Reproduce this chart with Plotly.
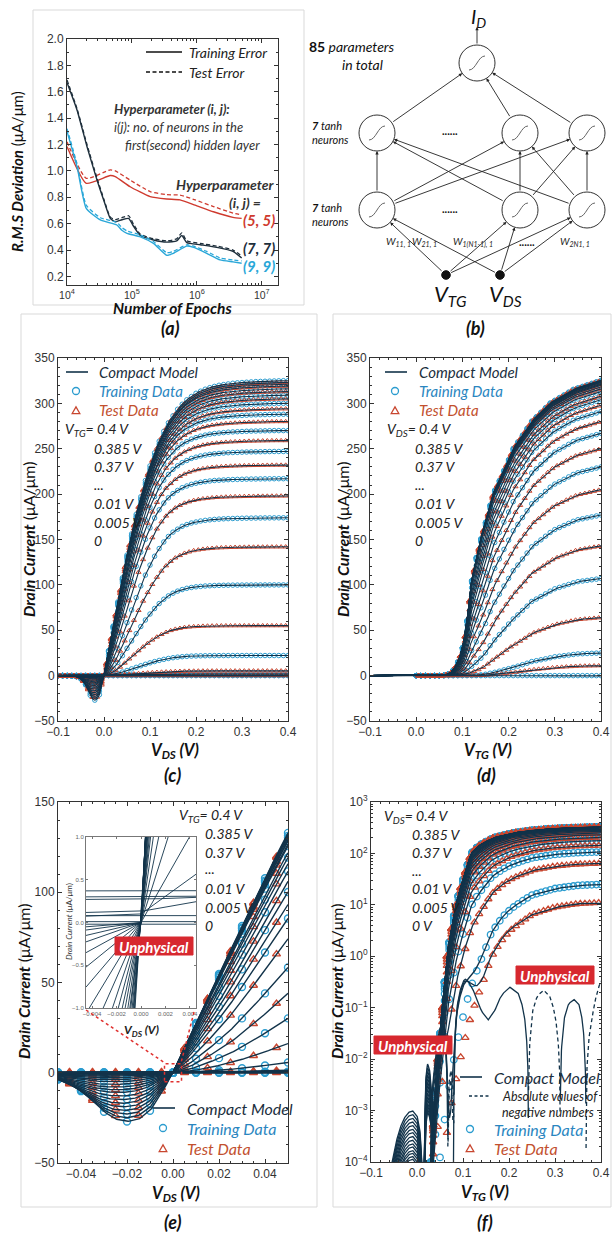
import numpy as np
import plotly.graph_objects as go

W, H = 612, 1234
F_TXT = "Lato, 'Open Sans', sans-serif"
F_TICK = "'Liberation Sans', Arial, sans-serif"

# ======================= DATA =======================
# ---- (a) RMS deviation vs number of epochs ----
EP_RED = [1e4, 1.98e4, 4.64e4, 5.54e4, 9.4e4, 1.91e5, 3.44e5, 5.5e5, 9.4e5, 1.8e6, 3.6e6, 4.9e6]
RMS_RED_TRAIN = [1.185, 0.906, 0.965, 0.957, 0.88, 0.805, 0.787, 0.78, 0.74, 0.69, 0.648, 0.64]
RMS_RED_TEST = [1.22, 0.944, 1.008, 1.0, 0.93, 0.843, 0.82, 0.817, 0.78, 0.73, 0.68, 0.666]
EP_DARK = [1e4, 1.43e4, 2.03e4, 2.9e4, 3.67e4, 4.64e4, 5.54e4, 7.0e4, 8.9e4, 1.06e5, 1.35e5,
           2.15e5, 3.44e5, 4.9e5, 5.86e5, 7.0e5, 1.13e6, 2.03e6, 3.6e6, 4.9e6]
RMS_DARK_TRAIN = [1.67, 1.46, 1.185, 0.93, 0.78, 0.64, 0.615, 0.63, 0.64, 0.58, 0.51,
                  0.476, 0.46, 0.47, 0.51, 0.456, 0.44, 0.42, 0.39, 0.34]
RMS_DARK_TEST = [1.69, 1.47, 1.2, 0.945, 0.79, 0.65, 0.63, 0.645, 0.66, 0.595, 0.52,
                 0.485, 0.47, 0.485, 0.53, 0.47, 0.45, 0.43, 0.40, 0.355]
EP_CYAN = [1e4, 1.43e4, 1.98e4, 3.26e4, 5.87e4, 7.0e4, 8.4e4, 1.35e5, 2.15e5, 3.44e5, 4.35e5,
           7.0e5, 8.9e5, 1.42e6, 2.28e6, 3.6e6, 4.9e6]
RMS_CYAN_TRAIN = [1.30, 1.03, 0.716, 0.628, 0.59, 0.55, 0.527, 0.50, 0.45, 0.36, 0.375,
                  0.43, 0.42, 0.375, 0.325, 0.31, 0.30]
RMS_CYAN_TEST = [1.32, 1.05, 0.74, 0.645, 0.61, 0.57, 0.545, 0.515, 0.465, 0.38, 0.39,
                 0.44, 0.43, 0.39, 0.34, 0.325, 0.318]

# ---- (c)/(e) output characteristics, one entry per V_TG curve ----
VTG_C = [0.4, 0.385, 0.37, 0.355, 0.34, 0.325, 0.31, 0.295, 0.28, 0.265, 0.25, 0.235, 0.22, 0.205,
         0.19, 0.175, 0.16, 0.145, 0.13, 0.115, 0.1, 0.085, 0.07, 0.055, 0.04, 0.025, 0.01, 0.005, 0.0]
ISAT_C = [325, 323, 321, 319, 316, 313, 309, 305, 300, 294, 288, 280, 270, 259, 247, 232, 217, 198,
          174, 142, 100, 55, 22, 5, 1.5, 0.4, 0.1, 0.03, 0.0]          # plateau current (uA/um)
VS_C = [0.118, 0.118, 0.118, 0.117, 0.117, 0.117, 0.116, 0.116, 0.115, 0.115, 0.114, 0.113, 0.112,
        0.112, 0.112, 0.112, 0.113, 0.116, 0.125, 0.13, 0.13, 0.13, 0.14, 0.15, 0.15, 0.15, 0.15,
        0.15, 0.15]                                                   # V_DS scale of the rise (V)
BL_C = [0, 0, 0, 0, 0, 0, 0, 0, 0, 0.05, 0.1, 0.15, 0.2, 0.25, 0.3, 0.35, 0.4, 0.5, 0.6, 0.7, 0.8,
        0.9, 1, 1, 1, 1, 1, 1, 1]                                     # share of S-shaped rise
DIP_C = [27, 25, 23, 21, 19, 17, 15, 13, 11, 9.5, 8, 6.5, 5, 3.8, 2.8, 2, 1.4, 0.9, 0.6, 0.35, 0.2,
         0.1, 0.05, 0, 0, 0, 0, 0, 0]                                 # depth of negative dip
VMIN_C = [0.020, 0.0205, 0.021, 0.0215, 0.022, 0.0225, 0.023, 0.0235, 0.024, 0.0245, 0.025, 0.0255,
          0.026, 0.027, 0.028, 0.029] + [0.03] * 13                   # |V_DS| of dip minimum
OFF_C = [0] * 20 + [0.0, 0.1, 0.13, 0.27, 0.30, 0.37, 0.08, 0.01, -0.02]   # current at V_DS = 0
U_PROF = [0, 0.05, 0.1, 0.15, 0.2, 0.25, 0.3, 0.35, 0.4, 0.45, 0.5, 0.6, 0.7, 0.8, 0.9, 1.0, 1.1,
          1.2, 1.35, 1.5, 1.7, 1.9, 2.1, 2.4, 2.8, 3.3, 50]
P_LIN = [0, 0.05, 0.1, 0.15, 0.197, 0.246, 0.295, 0.342, 0.388, 0.432, 0.474, 0.552, 0.622, 0.685,
         0.74, 0.788, 0.828, 0.862, 0.902, 0.932, 0.958, 0.974, 0.984, 0.992, 0.997, 1.0, 1.0]
P_SIG = [0, 0.008, 0.03, 0.06, 0.095, 0.14, 0.19, 0.245, 0.3, 0.355, 0.41, 0.52, 0.62, 0.71, 0.79,
         0.855, 0.905, 0.94, 0.972, 0.987, 0.996, 0.999, 1, 1, 1, 1, 1]
S_DIP = [0, 0.25, 0.5, 0.75, 1.0, 1.25, 1.5, 1.75, 2.0, 2.25, 2.5, 3.0, 3.5, 5.0, 50]
N_DIP = [0, 0.42, 0.78, 0.96, 1.0, 0.95, 0.8, 0.58, 0.36, 0.2, 0.09, 0.02, 0.005, 0, 0]

# ---- (d)/(f) transfer characteristics, one entry per V_DS curve ----
VDS_D = [0.4, 0.385, 0.37, 0.355, 0.34, 0.325, 0.31, 0.295, 0.28, 0.265, 0.25, 0.235, 0.22, 0.205,
         0.19, 0.175, 0.16, 0.145, 0.13, 0.115, 0.1, 0.085, 0.07, 0.055, 0.04, 0.025, 0.01, 0.005, 0.0]
IEND_D = [325.5, 325.3, 325, 324.5, 324, 323.5, 323, 322, 321, 320, 318, 316, 313, 308, 304, 298,
          291, 280, 267, 250, 230, 205, 177, 143, 107, 64, 25, 11, 0]   # I_D at V_TG = 0.4 V
BL_D = [0] * 12 + [0.01, 0.02, 0.03, 0.04, 0.05, 0.06, 0.08, 0.1, 0.12, 0.15, 0.19, 0.24, 0.32, 0.45,
                   0.87, 1.0, 1.0]
VTG_QH = [-0.1, 0.0, 0.02, 0.03, 0.037, 0.045, 0.055, 0.065, 0.078, 0.087, 0.097, 0.107, 0.118,
          0.13, 0.142, 0.166, 0.21, 0.25, 0.29, 0.34, 0.4]
ID_QH = [1e-9, 3e-7, 1e-5, 1e-4, 1e-3, 1e-2, 0.1, 1.0, 5, 12, 25, 50, 100, 130, 155, 200, 250, 280,
         300, 315, 325]
VTG_QL = [-0.1, 0.0, 0.03, 0.045, 0.055, 0.065, 0.075, 0.085, 0.095, 0.105, 0.115, 0.125, 0.135,
          0.145, 0.16, 0.17, 0.18, 0.19, 0.205, 0.23, 0.25, 0.3, 0.35, 0.4]
ID_QL = [1e-11, 1e-8, 1e-6, 1.5e-5, 8e-5, 3.7e-4, 1.4e-3, 4.1e-3, 0.011, 0.026, 0.058, 0.11, 0.2,
         0.35, 0.9, 1.3, 1.8, 2.4, 3.3, 4.9, 6.5, 9, 10.5, 11]
VTG_RIP = [-0.1, -0.07, -0.06, -0.05, -0.04, -0.03, -0.02, -0.01, 0.0, 0.006, 0.011, 0.0145, 0.017,
           0.02, 0.023, 0.027, 0.031, 0.034, 0.037, 0.045, 0.4]
RIP = [1e-3, 0.01, 0.05, 0.16, 0.38, 0.66, 0.9, 1.0, 0.8, 0.45, 0.12, 0.02, 1.5, 5.5, 8.0, 6.5, 3.0,
       0.8, 0.1, 0.002, 0.001]
AMP_F = [1e-3, 8.5e-4, 7.2e-4, 6.1e-4, 5.2e-4, 4.4e-4, 3.8e-4, 3.2e-4, 2.7e-4, 2.3e-4, 2e-4, 1.7e-4,
         1.5e-4, 1.3e-4, 1.15e-4] + [0] * 14
VTG_OSC = [0.03, 0.04, 0.05, 0.058, 0.0635, 0.0665, 0.069, 0.0735, 0.078, 0.0803, 0.083, 0.087,
           0.093, 0.1, 0.104, 0.11, 0.12, 0.13, 0.14, 0.155, 0.17, 0.185, 0.202, 0.22, 0.232, 0.238,
           0.2418, 0.246, 0.252, 0.262, 0.275, 0.288, 0.3, 0.306, 0.3108, 0.315, 0.32, 0.33, 0.341,
           0.352, 0.36, 0.364, 0.3668, 0.37, 0.376, 0.385, 0.393, 0.4]
OSC = [0.0, 0.008, 0.04, 0.05, 0.015, 0.0005, -0.003, -0.006, -0.003, -0.0002, 0.03, 0.1, 0.2,
       0.32, 0.36, 0.34, 0.24, 0.14, 0.085, 0.058, 0.09, 0.18, 0.25, 0.19, 0.08, 0.025, 0.002,
       -0.025, -0.09, -0.17, -0.22, -0.17, -0.07, -0.025, -0.002, 0.02, 0.06, 0.12, 0.145, 0.115,
       0.05, 0.016, 0.002, -0.008, -0.035, -0.1, -0.22, -0.33]
W_OSC = [0] * 25 + [0.3, 0.6, 0.85, 1.0]

# ======================= MODEL EVALUATION =======================
def curve_c(k, v):
    v = np.asarray(v, float)
    u = np.clip(v, 0, None) / VS_C[k]
    pos = ISAT_C[k] * ((1 - BL_C[k]) * np.interp(u, U_PROF, P_LIN) + BL_C[k] * np.interp(u, U_PROF, P_SIG))
    s = np.clip(-v, 0, None) / VMIN_C[k]
    neg = -DIP_C[k] * np.interp(s, S_DIP, N_DIP)
    return OFF_C[k] + np.where(v >= 0, pos, neg)

LQH = np.log10(ID_QH) - np.log10(ID_QH[-1])
LQL = np.log10(ID_QL) - np.log10(ID_QL[-1])

def base_d(j, v):
    v = np.asarray(v, float)
    if IEND_D[j] <= 0:
        return np.zeros_like(v)
    lh = np.interp(v, VTG_QH, LQH)
    ll = np.interp(v, VTG_QL, LQL)
    return IEND_D[j] * 10 ** ((1 - BL_D[j]) * lh + BL_D[j] * ll)

def model_d(j, v):
    v = np.asarray(v, float)
    rip = 10 ** np.interp(v, VTG_RIP, np.log10(RIP))
    osc = np.interp(v, VTG_OSC, OSC, left=0.0, right=OSC[-1])
    return base_d(j, v) + AMP_F[j] * rip + W_OSC[j] * osc

def joined(xs, ys_list):
    X, Y = [], []
    for ys in ys_list:
        X += [float(x) for x in xs] + [None]
        Y += [None if (y is None or np.isnan(y)) else float(y) for y in ys] + [None]
    return X, Y

C_MODEL = "#12334a"
C_TRAIN = "#2b9ccf"
C_TEST = "#c8462f"
T_MODEL = "#1a2e3d"
T_TRAIN = "#2a86bf"
T_TEST = "#c2502e"
C_RED, C_DARK, C_CYAN = "#cf3a2e", "#1e2f3c", "#2aa7d8"

fig = go.Figure()

# ---------------- (a) ----------------
for ep, tr, te, col in [(EP_RED, RMS_RED_TRAIN, RMS_RED_TEST, C_RED),
                        (EP_DARK, RMS_DARK_TRAIN, RMS_DARK_TEST, C_DARK),
                        (EP_CYAN, RMS_CYAN_TRAIN, RMS_CYAN_TEST, C_CYAN)]:
    fig.add_trace(go.Scatter(x=ep, y=te, mode="lines", xaxis="x", yaxis="y",
                             line=dict(color=col, width=1.3, dash="4px,2.5px", shape="spline", smoothing=0.5)))
    fig.add_trace(go.Scatter(x=ep, y=tr, mode="lines", xaxis="x", yaxis="y",
                             line=dict(color=col, width=1.4, shape="spline", smoothing=0.5)))

# ---------------- (c) ----------------
VD_C = np.arange(-0.1, 0.40001, 0.002)
TRP_C = np.round(np.arange(-0.1, 0.4001, 0.01), 4)
TEP_C = np.round(np.arange(-0.095, 0.4, 0.01), 4)
trX, trY, teX, teY = [], [], [], []
for k in range(len(VTG_C)):
    if k % 2 == 0:
        trX += list(TRP_C); trY += list(curve_c(k, TRP_C))
    else:
        teX += list(TEP_C); teY += list(curve_c(k, TEP_C))
fig.add_trace(go.Scatter(x=trX, y=trY, mode="markers", xaxis="x2", yaxis="y2",
                         marker=dict(symbol="circle-open", size=4.5, color=C_TRAIN, line=dict(width=1))))
fig.add_trace(go.Scatter(x=teX, y=teY, mode="markers", xaxis="x2", yaxis="y2",
                         marker=dict(symbol="triangle-up-open", size=4.5, color=C_TEST, line=dict(width=1))))
X, Y = joined(VD_C, [curve_c(k, VD_C) for k in range(len(VTG_C))])
fig.add_trace(go.Scatter(x=X, y=Y, mode="lines", xaxis="x2", yaxis="y2",
                         line=dict(color=C_MODEL, width=1.1)))

# ---------------- (d) ----------------
VG_D = np.arange(-0.1, 0.40001, 0.002)
TRP_D = np.round(np.arange(0.0, 0.4001, 0.01), 4)
TEP_D = np.round(np.arange(0.005, 0.4, 0.01), 4)
trX, trY, teX, teY = [], [], [], []
for j in range(len(VDS_D)):
    if j % 2 == 0:
        trX += list(TRP_D); trY += list(base_d(j, TRP_D))
    else:
        teX += list(TEP_D); teY += list(base_d(j, TEP_D))
fig.add_trace(go.Scatter(x=trX, y=trY, mode="markers", xaxis="x3", yaxis="y3",
                         marker=dict(symbol="circle-open", size=4.5, color=C_TRAIN, line=dict(width=1))))
fig.add_trace(go.Scatter(x=teX, y=teY, mode="markers", xaxis="x3", yaxis="y3",
                         marker=dict(symbol="triangle-up-open", size=4.5, color=C_TEST, line=dict(width=1))))
X, Y = joined(VG_D, [model_d(j, VG_D) for j in range(len(VDS_D))])
fig.add_trace(go.Scatter(x=X, y=Y, mode="lines", xaxis="x3", yaxis="y3",
                         line=dict(color=C_MODEL, width=1.1)))

# ---------------- (e) ----------------
VD_E = np.arange(-0.05, 0.05001, 0.0005)
trX, trY, teX, teY = [], [], [], []
TRP_E = TRP_C[np.abs(TRP_C) <= 0.0501]
TEP_E = TEP_C[np.abs(TEP_C) <= 0.0501]
for k in range(len(VTG_C)):
    if k % 2 == 0:
        trX += list(TRP_E); trY += list(curve_c(k, TRP_E))
    else:
        teX += list(TEP_E); teY += list(curve_c(k, TEP_E))
fig.add_trace(go.Scatter(x=trX, y=trY, mode="markers", xaxis="x4", yaxis="y4",
                         marker=dict(symbol="circle-open", size=7, color=C_TRAIN, line=dict(width=1.4))))
fig.add_trace(go.Scatter(x=teX, y=teY, mode="markers", xaxis="x4", yaxis="y4",
                         marker=dict(symbol="triangle-up-open", size=7, color=C_TEST, line=dict(width=1.4))))
X, Y = joined(VD_E, [curve_c(k, VD_E) for k in range(len(VTG_C))])
fig.add_trace(go.Scatter(x=X, y=Y, mode="lines", xaxis="x4", yaxis="y4",
                         line=dict(color=C_MODEL, width=1.4)))

# ---------------- (f) ----------------
VG_F = np.arange(-0.1, 0.40001, 0.0005)
trX, trY, teX, teY = [], [], [], []
for j in range(len(VDS_D)):
    if j % 2 == 0:
        v = base_d(j, TRP_D); m = v > 0
        trX += list(TRP_D[m]); trY += list(v[m])
    else:
        v = base_d(j, TEP_D); m = v > 0
        teX += list(TEP_D[m]); teY += list(v[m])
fig.add_trace(go.Scatter(x=trX, y=trY, mode="markers", xaxis="x5", yaxis="y5",
                         marker=dict(symbol="circle-open", size=6.5, color=C_TRAIN, line=dict(width=1.3))))
fig.add_trace(go.Scatter(x=teX, y=teY, mode="markers", xaxis="x5", yaxis="y5",
                         marker=dict(symbol="triangle-up-open", size=6.5, color=C_TEST, line=dict(width=1.3))))
pos_list, neg_list = [], []
for j in range(len(VDS_D)):
    y = model_d(j, VG_F)
    pos_list.append(np.where(y > 0, y, np.nan))
    neg_list.append(np.where(y < 0, -y, np.nan))
X, Y = joined(VG_F, neg_list)
fig.add_trace(go.Scatter(x=X, y=Y, mode="lines", xaxis="x5", yaxis="y5",
                         line=dict(color=C_MODEL, width=1.3, dash="4px,3px")))
X, Y = joined(VG_F, pos_list)
fig.add_trace(go.Scatter(x=X, y=Y, mode="lines", xaxis="x5", yaxis="y5",
                         line=dict(color=C_MODEL, width=1.3)))

# ---------------- (e) inset ----------------
VD_I = np.arange(-0.0045, 0.0045001, 0.00005)
X, Y = joined(VD_I, [curve_c(k, VD_I) for k in range(len(VTG_C))])
fig.add_trace(go.Scatter(x=X, y=Y, mode="lines", xaxis="x6", yaxis="y6",
                         line=dict(color=C_MODEL, width=0.9)))

# ======================= AXES =======================
def dx(a, b):
    return [a / W, b / W]

def dy(top, bottom):
    return [1 - bottom / H, 1 - top / H]

def axis(**kw):
    d = dict(showline=True, linecolor="#333", linewidth=1, mirror="ticks", ticks="inside",
             ticklen=4, tickwidth=1, tickcolor="#333", showgrid=False, zeroline=False,
             automargin=False, tickfont=dict(family=F_TICK, size=12, color="#333"), fixedrange=True)
    d.update(kw)
    return d

MINOR = dict(ticks="inside", ticklen=2, tickcolor="#333")
minor_log_a = [m * 10 ** e for e in range(4, 7) for m in range(2, 10)]
minor_log_f = [m * 10.0 ** e for e in range(-4, 3) for m in range(2, 10)]
sup = lambda e: "10<sup>%s</sup>" % (str(e).replace("-", "\u2212"))

fig.update_layout(
    template="none",
    width=W, height=H, margin=dict(l=0, r=0, t=0, b=0, pad=0), autosize=False,
    paper_bgcolor="white", plot_bgcolor="white", showlegend=False,
    xaxis=axis(domain=dx(67, 278), anchor="y", type="log", range=[4, 7.25],
               tickvals=[1e4, 1e5, 1e6, 1e7], ticktext=[sup(4), sup(5), sup(6), sup(7)],
               tickfont=dict(family=F_TICK, size=10.5, color="#333"),
               minor=dict(tickvals=minor_log_a, **MINOR)),
    yaxis=axis(domain=dy(39, 285), anchor="x", range=[0.135, 2.0], tick0=0.2, dtick=0.2,
               tickformat=".1f", minor=dict(dtick=0.1, **MINOR)),
    xaxis2=axis(domain=dx(58, 288), anchor="y2", range=[-0.1, 0.4], dtick=0.1, tickformat=".1f",
                minor=dict(dtick=0.02, **MINOR)),
    yaxis2=axis(domain=dy(358, 721), anchor="x2", range=[-50, 350], dtick=50,
                minor=dict(dtick=10, **MINOR)),
    xaxis3=axis(domain=dx(370, 601), anchor="y3", range=[-0.1, 0.4], dtick=0.1, tickformat=".1f",
                minor=dict(dtick=0.02, **MINOR)),
    yaxis3=axis(domain=dy(358, 721), anchor="x3", range=[-50, 350], dtick=50,
                minor=dict(dtick=10, **MINOR)),
    xaxis4=axis(domain=dx(58, 288), anchor="y4", range=[-0.05, 0.05], tick0=-0.04, dtick=0.02,
                tickformat=".2f", minor=dict(dtick=0.005, **MINOR)),
    yaxis4=axis(domain=dy(802, 1163), anchor="x4", range=[-50, 150], dtick=50,
                minor=dict(dtick=10, **MINOR)),
    xaxis5=axis(domain=dx(371, 601), anchor="y5", range=[-0.1, 0.4], dtick=0.1, tickformat=".1f",
                minor=dict(dtick=0.02, **MINOR)),
    yaxis5=axis(domain=dy(802, 1162), anchor="x5", type="log", range=[-4, 3],
                tickvals=[10.0 ** e for e in range(-4, 4)], ticktext=[sup(e) for e in range(-4, 4)],
                minor=dict(tickvals=minor_log_f, **MINOR)),
    xaxis6=axis(domain=dx(86, 196), anchor="y6", range=[-0.0045, 0.0045],
                tickvals=[-0.004, -0.002, 0, 0.002, 0.004], tickformat=".3f", ticklen=2,
                linecolor="#777", tickcolor="#777", tickfont=dict(family=F_TICK, size=6, color="#666")),
    yaxis6=axis(domain=dy(837, 1008), anchor="x6", range=[-1, 1],
                tickvals=[-1, -0.5, 0, 0.5, 1], tickformat=".1f", ticklen=2,
                linecolor="#777", tickcolor="#777", tickfont=dict(family=F_TICK, size=6, color="#666")),
)

# ======================= DECORATIONS (paper coords from pixel positions) =======================
shapes, ann = [], []
PX = lambda x: x / W
PY = lambda y: 1 - y / H

def T(x, y, s, size=14, color="#222", xa="left", ya="middle", angle=0, family=F_TXT):
    ann.append(dict(x=PX(x), y=PY(y), xref="paper", yref="paper", text=s, showarrow=False,
                    xanchor=xa, yanchor=ya, textangle=angle,
                    font=dict(size=size, color=color, family=family)))

def L(x0, y0, x1, y1, color="#222", width=1.0, dash="solid"):
    shapes.append(dict(type="line", xref="paper", yref="paper", x0=PX(x0), y0=PY(y0), x1=PX(x1),
                       y1=PY(y1), line=dict(color=color, width=width, dash=dash), layer="above"))

def RECT(x0, y0, x1, y1, color="#d9d9d9", fill=None, width=1.0, dash="solid"):
    shapes.append(dict(type="rect", xref="paper", yref="paper", x0=PX(x0), y0=PY(y0), x1=PX(x1),
                       y1=PY(y1), line=dict(color=color, width=width, dash=dash),
                       fillcolor=fill if fill else "rgba(0,0,0,0)", layer="above"))

def CIRC(cx, cy, r, color="#333", fill="white", width=1.0):
    shapes.append(dict(type="circle", xref="paper", yref="paper", x0=PX(cx - r), x1=PX(cx + r),
                       y0=PY(cy + r), y1=PY(cy - r), line=dict(color=color, width=width),
                       fillcolor=fill, layer="above"))

def PATH(pts_cmds, color, width, fill="rgba(0,0,0,0)"):
    shapes.append(dict(type="path", xref="paper", yref="paper", layer="above", path=pts_cmds,
                       line=dict(color=color, width=width), fillcolor=fill))

def P(x, y):
    return "%.5f,%.5f" % (PX(x), PY(y))

def TRI(cx, cy, s, color):
    PATH("M %s L %s L %s Z" % (P(cx - s, cy + s * 0.8), P(cx + s, cy + s * 0.8), P(cx, cy - s * 0.95)),
         color, 1.3)

def ARROW(x0, y0, x1, y1):
    ann.append(dict(x=PX(x1), y=PY(y1), xref="paper", yref="paper", axref="pixel", ayref="pixel",
                    ax=x0 - x1, ay=y0 - y1, text="", showarrow=True, arrowhead=2, arrowsize=0.75,
                    arrowwidth=0.9, arrowcolor="#222", standoff=0, startstandoff=0))

# panel frames
RECT(33, 10, 304, 305)
RECT(21, 314, 317, 1207)
RECT(333, 314, 611, 1207)

# ---- (a) texts ----
L(146, 52, 182, 52, "#111", 1.6)
L(146, 72, 182, 72, "#111", 1.6, "4px,2.5px")
T(187, 52, "<i>Training Error</i>", 14, "#222")
T(187, 72, "<i>Test Error</i>", 14, "#222")
T(112, 109, "<b><i>Hyperparameter (i, j):</i></b>", 13, "#333")
T(112, 127, "<i>i(j): no. of neurons in the</i>", 13, "#333")
T(123, 145, "<i>first(second) hidden layer</i>", 13, "#333")
T(277, 184, "<b><i>Hyperparameter</i></b>", 14, "#333", xa="right")
T(263, 203, "<b><i>(i, j) =</i></b>", 14, "#333", xa="right")
T(277, 220, "<b><i>(5, 5)</i></b>", 15, C_RED, xa="right")
T(277, 248, "<b><i>(7, 7)</i></b>", 15, C_DARK, xa="right")
T(277, 266, "<b><i>(9, 9)</i></b>", 15, C_CYAN, xa="right")
T(172, 308, "<b><i>Number of Epochs</i></b>", 15.5, "#111", xa="center")
T(17, 172, "<b><i>R.M.S Deviation</i></b> (\u03bcA/\u03bcm)", 15, "#111", xa="center", angle=-90)

# ---- (b) network diagram ----
R = 18
OUT = (477, 63)
L2 = [(377, 133), (520, 133), (587, 133)]
L1 = [(377, 210), (520, 210), (587, 210)]
INP = [(446, 275), (500, 275)]

def link(a, b, ra, rb):
    ddx, ddy = b[0] - a[0], b[1] - a[1]
    d = (ddx ** 2 + ddy ** 2) ** 0.5
    ux, uy = ddx / d, ddy / d
    ARROW(a[0] + ra * ux, a[1] + ra * uy, b[0] - rb * ux, b[1] - rb * uy)

for a in INP:
    for b in L1:
        link(a, b, 4, R)
for a in L1:
    for b in L2:
        link(a, b, R, R)
for a in L2:
    link(a, OUT, R, R)
ARROW(477, 45, 477, 27)
for (cx, cy) in [OUT] + L2 + L1:
    CIRC(cx, cy, R)
    PATH("M %s C %s %s %s" % (P(cx - 8, cy + 7), P(cx - 1, cy + 7), P(cx + 1, cy - 7), P(cx + 8, cy - 7)),
         "#555", 0.9)
for (cx, cy) in INP:
    CIRC(cx, cy, 4.3, "#111", "#111")
T(478, 17, "<i>I<sub>D</sub></i>", 20, "#111", xa="center")
T(352, 47, "<b>85</b><i> parameters</i>", 14, "#111", xa="center")
T(362, 64, "<i>in total</i>", 14, "#111", xa="center")
for yy in (125, 207):
    T(310, yy, "<b><i>7</i></b><i> tanh</i>", 11, "#111")
    T(310, yy + 14, "<i>neurons</i>", 11, "#111")
T(450, 131, "<b>......</b>", 11, "#111", xa="center")
T(450, 208, "<b>......</b>", 11, "#111", xa="center")
T(527, 241, "<b>......</b>", 11, "#111", xa="center")
T(398, 242, "<i>W<sub>11, 1</sub></i>", 10, "#222", xa="center")
T(424, 242, "<i>W<sub>21, 1</sub></i>", 10, "#222", xa="center")
T(473, 242, "<i>W<sub>1(N1-1), 1</sub></i>", 10, "#222", xa="center")
T(575, 242, "<i>W<sub>2N1, 1</sub></i>", 10, "#222", xa="center")
T(450, 295, "<i>V<sub>TG</sub></i>", 22, "#111", xa="center")
T(506, 295, "<i>V<sub>DS</sub></i>", 22, "#111", xa="center")

# ---- captions ----
for (x, y, s) in [(170, 328, "(a)"), (475, 328, "(b)"), (172, 775, "(c)"), (487, 775, "(d)"),
                  (173, 1222, "(e)"), (485, 1222, "(f)")]:
    T(x, y, "<b><i>%s</i></b>" % s, 18, "#111", xa="center")

# ---- axis titles (c)-(f) ----
YT = "<b><i>Drain Current</i></b> (\u03bcA/\u03bcm)"
T(28, 540, YT, 16, "#111", xa="center", angle=-90)
T(342, 540, YT, 16, "#111", xa="center", angle=-90)
T(23, 982, YT, 16, "#111", xa="center", angle=-90)
T(336, 982, YT, 16, "#111", xa="center", angle=-90)
T(175, 750, "<b><i>V<sub>DS</sub> (V)</i></b>", 16.5, "#111", xa="center")
T(488, 750, "<b><i>V<sub>TG</sub> (V)</i></b>", 16.5, "#111", xa="center")
T(176, 1193, "<b><i>V<sub>DS</sub> (V)</i></b>", 16.5, "#111", xa="center")
T(485, 1192, "<b><i>V<sub>TG</sub> (V)</i></b>", 16.5, "#111", xa="center")

# ---- legends ----
def legend3(x_line, x_text, y0, dy_, size=15, extra=False):
    L(x_line, y0, x_line + 22, y0, C_MODEL, 1.6)
    T(x_text, y0, "<i>Compact Model</i>", size, T_MODEL)
    yy = y0 + dy_
    if extra:
        L(x_line + 9, yy, x_line + 31, yy, C_MODEL, 1.4, "3px,2.5px")
        T(x_text + 8, yy, "<i>Absolute values of</i>", 12.5, "#222")
        T(x_text + 8, yy + 16, "<i>negative numbers</i>", 12.5, "#222")
        yy += 33
    CIRC(x_line + 10, yy, 3.5, C_TRAIN, "rgba(0,0,0,0)", 1.3)
    T(x_text, yy, "<i>Training Data</i>", size, T_TRAIN)
    TRI(x_line + 10, yy + dy_ + 0.5, 3.8, C_TEST)
    T(x_text, yy + dy_, "<i>Test Data</i>", size, T_TEST)

legend3(66, 97, 372, 19)
legend3(385, 417, 372, 19)
legend3(153, 185, 1108, 20, 16)
legend3(460, 492, 1077, 19, 16, extra=True)

# ---- V_TG / V_DS lists ----
def vlist(x0, x1, ytop, sub, steps, last):
    labs = ["0.385 V", "0.37 V", "...", "0.01 V", "0.005 V", last]
    T(x0, ytop, "<i>V<sub>%s</sub>= 0.4 V</i>" % sub, 14, "#222")
    for i, s in enumerate(labs):
        T(x1, ytop + steps[i], "<i>%s</i>" % s, 14, "#222")

vlist(63, 92, 430, "TG", [18, 36, 54, 73, 92, 110], "0")
vlist(385, 413, 430, "DS", [18, 36, 54, 73, 92, 110], "0")
vlist(177, 203, 815, "TG", [18, 37, 53, 73, 92, 110], "0")
vlist(382, 410, 817, "DS", [17, 35, 53, 71, 90, 108], "0 V")

# ---- unphysical tags ----
for (x0, y0, x1, y1) in [(115, 937, 193, 955), (516, 966, 594, 984), (374, 1036, 452, 1054)]:
    RECT(x0, y0, x1, y1, "#d7282f", "#d7282f")
    T((x0 + x1) / 2, (y0 + y1) / 2 + 0.5, "<b><i>Unphysical</i></b>", 15, "white", xa="center")

# ---- inset titles and zoom guides ----
T(69, 922, "<i>Drain Current</i> (\u03bcA/\u03bcm)", 8, "#333", xa="center", angle=-90)
T(141, 1030, "<b><i>V<sub>DS</sub> (V)</i></b>", 12, "#222", xa="center")
shapes.append(dict(type="rect", xref="x4", yref="y4", x0=-0.0037, x1=0.0037, y0=-5, y1=5,
                   line=dict(color="#e0302e", width=1.5, dash="dot"), layer="above"))
L(86, 1010, 165, 1063, "#e0302e", 1.5, "dot")
L(194, 1012, 181, 1063, "#e0302e", 1.5, "dot")

fig.update_layout(shapes=shapes, annotations=ann)
fig.write_html(
    "out.html",
    config={"displayModeBar": False, "staticPlot": True},
    post_script="document.body.style.margin='0px';document.body.style.padding='0px';"
                "document.documentElement.style.overflow='hidden';document.body.style.overflow='hidden';",
)
